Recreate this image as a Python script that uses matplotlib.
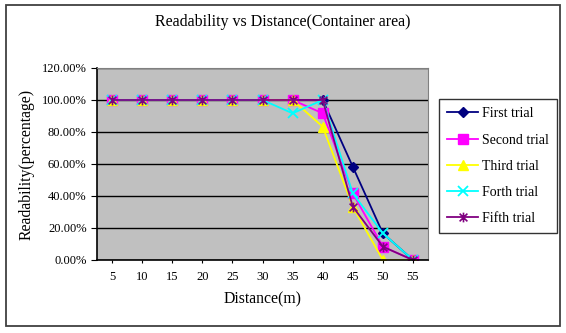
"""Readability of container markings at increasing distance, five trials."""

import matplotlib

matplotlib.use("Agg")
import matplotlib.pyplot as plt
from matplotlib.patches import Rectangle
from matplotlib.path import Path
from matplotlib.ticker import FuncFormatter


distances = [5, 10, 15, 20, 25, 30, 35, 40, 45, 50, 55]

first_trial = [100, 100, 100, 100, 100, 100, 100, 100, 58.33, 16.67, 0]
second_trial = [100, 100, 100, 100, 100, 100, 100, 91.67, 41.67, 8.33, 0]
third_trial = [100, 100, 100, 100, 100, 100, 100, 83.33, 33.33, 0, 0]
forth_trial = [100, 100, 100, 100, 100, 100, 91.67, 100, 41.67, 16.67, 0]
fifth_trial = [100, 100, 100, 100, 100, 100, 100, 100, 33.33, 8.33, 0]

series_names = ["First trial", "Second trial", "Third trial", "Forth trial", "Fifth trial"]
y_ticks = [0, 20, 40, 60, 80, 100, 120]

# asterisk marker: an x with a vertical stroke through it
star_path = Path(
    [(-1, -1), (1, 1), (-1, 1), (1, -1), (0, -1.25), (0, 1.25)],
    [Path.MOVETO, Path.LINETO, Path.MOVETO, Path.LINETO, Path.MOVETO, Path.LINETO],
)

styles = [
    dict(color="#000080", marker="D", ms=5.5, mfc="#000080", mec="#000080"),
    dict(color="#FF00FF", marker="s", ms=6.5, mfc="#FF00FF", mec="#FF00FF"),
    dict(color="#FFFF00", marker="^", ms=7, mfc="#FFFF00", mec="#FFFF00"),
    dict(color="#00FFFF", marker="x", ms=6.5, mfc="none", mec="#00FFFF", mew=1.3),
    dict(color="#800080", marker=star_path, ms=7, mfc="none", mec="#800080", mew=1.2),
]

plt.rcParams["font.family"] = ["Liberation Serif", "DejaVu Serif"]

fig = plt.figure(figsize=(5.66, 3.33), dpi=100)
fig.patches.append(
    Rectangle((6 / 566, 7 / 333), 554 / 566, 321 / 333, transform=fig.transFigure,
              fill=False, edgecolor="#404040", linewidth=1.3)
)

ax = fig.add_axes([97 / 566, 1 - 260 / 333, 331 / 566, 192 / 333])
ax.set_facecolor("#C0C0C0")

positions = list(range(len(distances)))
all_trials = [first_trial, second_trial, third_trial, forth_trial, fifth_trial]
for name, values, style in zip(series_names, all_trials, styles):
    ax.plot(positions, values, label=name, linewidth=1.3, **style)

ax.set_xlim(-0.5, len(distances) - 0.5)
ax.set_ylim(0, 120)
ax.set_xticks(positions, [str(d) for d in distances])
ax.set_yticks(y_ticks)
ax.yaxis.set_major_formatter(FuncFormatter(lambda v, _: f"{v:.2f}%"))
ax.grid(axis="y", color="black", linewidth=1)
ax.set_axisbelow(True)
ax.tick_params(axis="both", labelsize=9, direction="out", length=4, color="black")
ax.tick_params(axis="x", length=2, pad=6)

for side in ["top", "right"]:
    ax.spines[side].set_color("#808080")
for side in ["left", "bottom"]:
    ax.spines[side].set_color("black")
    ax.spines[side].set_linewidth(1.2)

ax.set_xlabel("Distance(m)", fontsize=11.3, labelpad=6)
ax.set_ylabel("Readability(percentage)", fontsize=11.3, labelpad=5)
fig.text(0.5, 1 - 22 / 333, "Readability vs Distance(Container area)",
         ha="center", va="center", fontsize=11.5)

legend = fig.legend(loc="upper left", bbox_to_anchor=(439 / 566, 1 - 99 / 333),
                    borderaxespad=0, fontsize=10, frameon=True, fancybox=False,
                    handlelength=2.2, handletextpad=0.3, labelspacing=0.95,
                    borderpad=0.6)
legend.get_frame().set_edgecolor("black")
legend.get_frame().set_linewidth(1)

fig.savefig("out.png", dpi=100)
